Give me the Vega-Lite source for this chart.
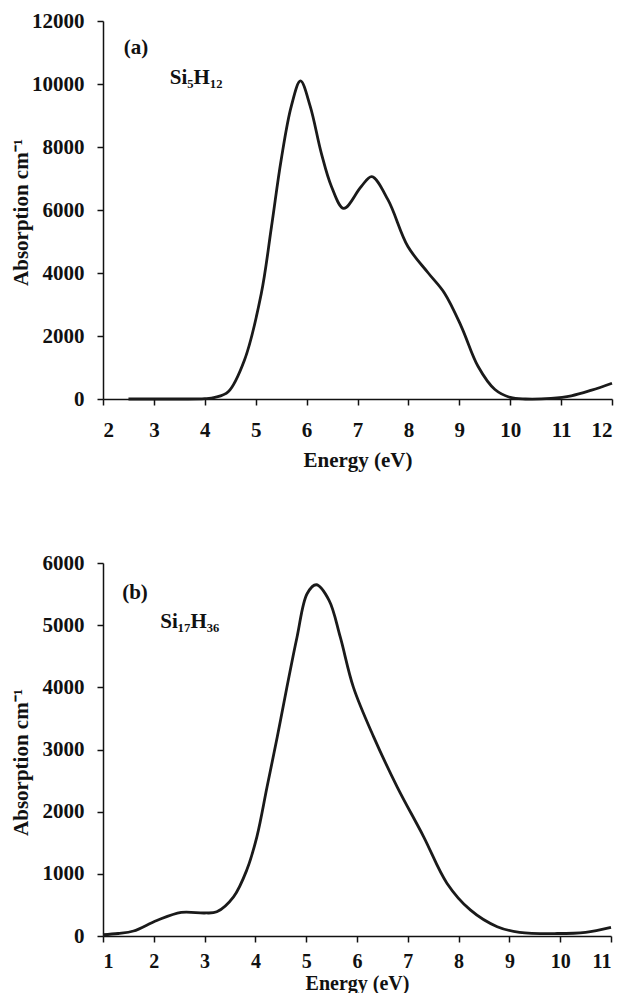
{
  "$schema": "https://vega.github.io/schema/vega-lite/v6.json",
  "background": "white",
  "padding": {"left": 10, "top": 10, "right": 0, "bottom": 0},
  "spacing": 164,
  "bounds": "flush",
  "config": {
    "view": {"stroke": null},
    "font": "Liberation Serif",
    "axis": {
      "grid": false,
      "domainColor": "#111",
      "domainWidth": 1.5,
      "tickColor": "#111",
      "tickWidth": 1.5,
      "tickSize": 6,
      "labelFont": "Liberation Serif",
      "labelFontWeight": "bold",
      "labelFontSize": 21,
      "labelColor": "#111",
      "titleFont": "Liberation Serif",
      "titleFontWeight": "bold",
      "titleFontSize": 21,
      "titleColor": "#111",
      "format": "d"
    }
  },
  "datasets": {
    "si5h12": [
      {"energy": 2.5, "absorption": 0},
      {"energy": 3.0, "absorption": 0},
      {"energy": 3.5, "absorption": 0},
      {"energy": 4.0, "absorption": 10},
      {"energy": 4.2, "absorption": 50},
      {"energy": 4.46, "absorption": 230},
      {"energy": 4.78, "absorption": 1240},
      {"energy": 5.11, "absorption": 3350},
      {"energy": 5.31, "absorption": 5470},
      {"energy": 5.5, "absorption": 7590},
      {"energy": 5.7, "absorption": 9300},
      {"energy": 5.88, "absorption": 10100},
      {"energy": 6.07, "absorption": 9300},
      {"energy": 6.29, "absorption": 7800},
      {"energy": 6.49, "absorption": 6740},
      {"energy": 6.73, "absorption": 6050},
      {"energy": 7.07, "absorption": 6740},
      {"energy": 7.28, "absorption": 7060},
      {"energy": 7.6, "absorption": 6320},
      {"energy": 7.99, "absorption": 4840},
      {"energy": 8.39, "absorption": 4000},
      {"energy": 8.71, "absorption": 3360},
      {"energy": 9.04, "absorption": 2300},
      {"energy": 9.37, "absorption": 1030},
      {"energy": 9.7, "absorption": 300},
      {"energy": 10.0, "absorption": 50},
      {"energy": 10.3, "absorption": 0},
      {"energy": 10.8, "absorption": 20},
      {"energy": 11.2, "absorption": 100},
      {"energy": 11.6, "absorption": 280},
      {"energy": 12.0, "absorption": 500}
    ],
    "si17h36": [
      {"energy": 1.0, "absorption": 20},
      {"energy": 1.3, "absorption": 40},
      {"energy": 1.6, "absorption": 80},
      {"energy": 2.06, "absorption": 250},
      {"energy": 2.54, "absorption": 380},
      {"energy": 3.0, "absorption": 370},
      {"energy": 3.24, "absorption": 390},
      {"energy": 3.57, "absorption": 630},
      {"energy": 3.83, "absorption": 1060},
      {"energy": 4.03, "absorption": 1600},
      {"energy": 4.23, "absorption": 2400},
      {"energy": 4.43, "absorption": 3200},
      {"energy": 4.62, "absorption": 4000},
      {"energy": 4.82, "absorption": 4810},
      {"energy": 5.02, "absorption": 5510},
      {"energy": 5.2, "absorption": 5650},
      {"energy": 5.45, "absorption": 5400},
      {"energy": 5.67, "absorption": 4810},
      {"energy": 5.93, "absorption": 4000},
      {"energy": 6.33, "absorption": 3200},
      {"energy": 6.79, "absorption": 2400},
      {"energy": 7.31, "absorption": 1600},
      {"energy": 7.77, "absorption": 850},
      {"energy": 8.23, "absorption": 420},
      {"energy": 8.76, "absorption": 150},
      {"energy": 9.2, "absorption": 60},
      {"energy": 9.94, "absorption": 40},
      {"energy": 10.5, "absorption": 60},
      {"energy": 11.0, "absorption": 140}
    ],
    "labels_a": [
      {"energy": 2.65, "absorption": 11140, "text": "(a)"},
      {"energy": 3.83, "absorption": 10190, "text": "Si₅H₁₂"}
    ],
    "labels_b": [
      {"energy": 1.63, "absorption": 5514, "text": "(b)"},
      {"energy": 2.71, "absorption": 5048, "text": "Si₁₇H₃₆"}
    ]
  },
  "vconcat": [
    {
      "width": 509,
      "height": 378,
      "layer": [
        {
          "data": {"name": "si5h12"},
          "mark": {"type": "line", "interpolate": "catmull-rom", "color": "#1a1a1a", "strokeWidth": 2.8},
          "encoding": {
            "x": {
              "field": "energy", "type": "quantitative",
              "scale": {"domain": [2, 12], "nice": false, "zero": false},
              "axis": {"values": [2, 3, 4, 5, 6, 7, 8, 9, 10, 11, 12], "labelPadding": 14, "title": "Energy (eV)", "titleY": 61, "titleBaseline": "middle"}
            },
            "y": {
              "field": "absorption", "type": "quantitative",
              "scale": {"domain": [0, 12000], "nice": false},
              "axis": {"values": [0, 2000, 4000, 6000, 8000, 10000, 12000], "labelPadding": 13, "title": "Absorption cm⁻¹", "titleX": -82, "titleY": 191, "titleBaseline": "middle"}
            }
          }
        },
        {
          "data": {"name": "labels_a"},
          "mark": {"type": "text", "font": "Liberation Serif", "fontWeight": "bold", "fontSize": 21, "color": "#111", "baseline": "middle", "align": "center"},
          "encoding": {
            "x": {"field": "energy", "type": "quantitative"},
            "y": {"field": "absorption", "type": "quantitative"},
            "text": {"field": "text"}
          }
        }
      ]
    },
    {
      "width": 508,
      "height": 373,
      "layer": [
        {
          "data": {"name": "si17h36"},
          "mark": {"type": "line", "interpolate": "catmull-rom", "color": "#1a1a1a", "strokeWidth": 2.8},
          "encoding": {
            "x": {
              "field": "energy", "type": "quantitative",
              "scale": {"domain": [1, 11], "nice": false, "zero": false},
              "axis": {"values": [1, 2, 3, 4, 5, 6, 7, 8, 9, 10, 11], "labelPadding": 9, "labelFontSize": 20, "title": "Energy (eV)", "titleFontSize": 20, "titleY": 47, "titleBaseline": "middle"}
            },
            "y": {
              "field": "absorption", "type": "quantitative",
              "scale": {"domain": [0, 6000], "nice": false},
              "axis": {"values": [0, 1000, 2000, 3000, 4000, 5000, 6000], "labelPadding": 13, "title": "Absorption cm⁻¹", "titleX": -82, "titleY": 199, "titleBaseline": "middle"}
            }
          }
        },
        {
          "data": {"name": "labels_b"},
          "mark": {"type": "text", "font": "Liberation Serif", "fontWeight": "bold", "fontSize": 21, "color": "#111", "baseline": "middle", "align": "center"},
          "encoding": {
            "x": {"field": "energy", "type": "quantitative"},
            "y": {"field": "absorption", "type": "quantitative"},
            "text": {"field": "text"}
          }
        }
      ]
    }
  ]
}
